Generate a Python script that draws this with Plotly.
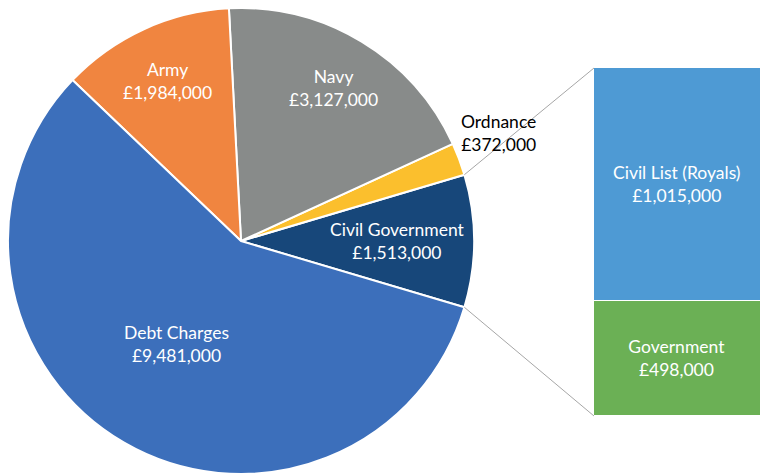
import math
import plotly.graph_objects as go

# Public expenditure, split into main heads; Civil Government broken out in the bar
pie_labels = ["Civil Government", "Ordnance", "Navy", "Army", "Debt Charges"]
pie_values = [1513000, 372000, 3127000, 1984000, 9481000]
pie_colors = ["#17477A", "#FBBF2D", "#888B8A", "#F08540", "#3C6FBB"]

bar_labels = ["Government", "Civil List (Royals)"]
bar_values = [498000, 1015000]
bar_colors = ["#6BB055", "#4E9AD4"]

W, H = 761, 475
FONT = "Lato, 'Open Sans', sans-serif"
FS = 17.5

def money(v):
    return "£{:,}".format(v)

# pie placement (pixels)
pie_x0, pie_x1 = 8, 474
pie_y0, pie_y1 = 8, 474  # top, bottom in screen pixels
cx = (pie_x0 + pie_x1) / 2
cy = (pie_y0 + pie_y1) / 2
R = min(pie_x1 - pie_x0, pie_y1 - pie_y0) / 2

total = sum(pie_values)
split_deg = pie_values[0] / total * 360
# centre the broken-out slice on the horizontal (rotation measured clockwise from 12 o'clock)
rotation = 90 - split_deg / 2

# bar placement (pixels)
bar_left, bar_right = 594, 761
bar_top, bar_bottom = 68, 416

def px_to_paper(x, y):
    return x / W, 1 - y / H

fig = go.Figure()

fig.add_trace(go.Pie(
    labels=pie_labels,
    values=pie_values,
    sort=False,
    direction="counterclockwise",
    rotation=rotation,
    marker=dict(colors=pie_colors, line=dict(color="white", width=2)),
    textinfo="none",
    hoverinfo="label+value",
    showlegend=False,
    domain=dict(x=[pie_x0 / W, pie_x1 / W], y=[1 - pie_y1 / H, 1 - pie_y0 / H]),
))

for lab, val, col in zip(bar_labels, bar_values, bar_colors):
    fig.add_trace(go.Bar(
        x=[0], y=[val],
        marker=dict(color=col, line=dict(color="white", width=1.5)),
        text=[f"{lab}<br>{money(val)}"],
        textposition="inside",
        insidetextanchor="middle",
        textangle=0,
        textfont=dict(color="white", size=FS, family=FONT),
        hoverinfo="y+name",
        name=lab,
        showlegend=False,
        xaxis="x", yaxis="y",
    ))

# slice labels: (radius fraction, angle nudge in degrees, text colour)
label_style = {
    "Civil Government": (0.67, 0.0, "white"),
    "Ordnance": (1.2, 2.2, "black"),
    "Navy": (0.77, 0.0, "white"),
    "Army": (0.755, 0.0, "white"),
    "Debt Charges": (0.52, -2.0, "white"),
}

annotations = []
start = -split_deg / 2
for lab, val in zip(pie_labels, pie_values):
    sweep = val / total * 360
    mid = start + sweep / 2
    frac, nudge, col = label_style[lab]
    a = math.radians(mid + nudge)
    px = cx + frac * R * math.cos(a)
    py = cy - frac * R * math.sin(a)
    xp, yp = px_to_paper(px, py)
    annotations.append(dict(
        x=xp, y=yp, xref="paper", yref="paper",
        text=f"{lab}<br>{money(val)}", showarrow=False,
        xanchor="center", yanchor="middle",
        font=dict(color=col, size=FS, family=FONT),
    ))
    start += sweep

# connector lines from the edges of the broken-out slice to the bar corners
shapes = []
for ang, by in ((split_deg / 2, bar_top), (-split_deg / 2, bar_bottom)):
    a = math.radians(ang)
    sx, sy = px_to_paper(cx + R * math.cos(a), cy - R * math.sin(a))
    ex, ey = px_to_paper(bar_left, by)
    shapes.append(dict(type="line", xref="paper", yref="paper",
                       x0=sx, y0=sy, x1=ex, y1=ey,
                       line=dict(color="#A6A6A6", width=1)))

fig.update_layout(
    width=W, height=H,
    margin=dict(l=0, r=0, t=0, b=0),
    paper_bgcolor="white", plot_bgcolor="white",
    barmode="stack", bargap=0,
    xaxis=dict(domain=[bar_left / W, bar_right / W], range=[-0.5, 0.5],
               visible=False, fixedrange=True),
    yaxis=dict(domain=[1 - bar_bottom / H, 1 - bar_top / H], range=[0, sum(bar_values)],
               visible=False, fixedrange=True),
    annotations=annotations,
    shapes=shapes,
    font=dict(family=FONT),
)

fig.write_html("out.html")
